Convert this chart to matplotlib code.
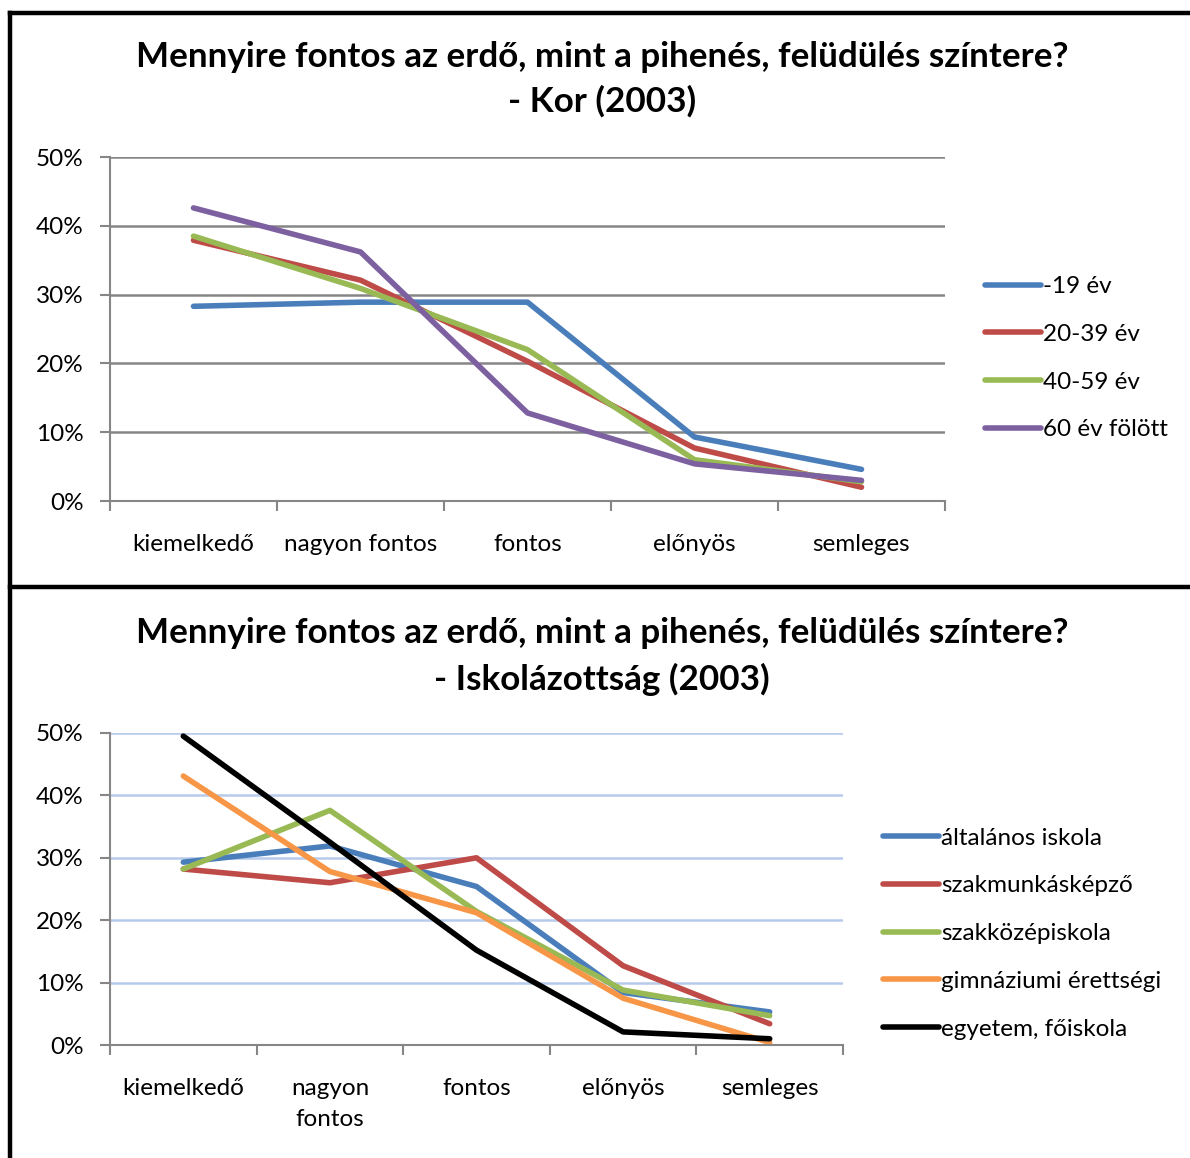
import matplotlib.pyplot as plt
from matplotlib.lines import Line2D

plt.rcParams['font.family'] = ['Lato', 'DejaVu Sans']

categories = ['kiemelkedő', 'nagyon fontos', 'fontos', 'előnyös', 'semleges']
categories2 = ['kiemelkedő', 'nagyon\nfontos', 'fontos', 'előnyös', 'semleges']

# top chart: age groups (%)
age_labels = ['-19 év', '20-39 év', '40-59 év', '60 év fölött']
age_19 = [28.3, 28.9, 28.9, 9.3, 4.6]
age_20_39 = [37.9, 32.1, 20.3, 7.7, 2.0]
age_40_59 = [38.5, 30.9, 22.0, 6.0, 2.8]
age_60 = [42.6, 36.2, 12.8, 5.4, 3.0]
age_colors = ['#4a7ebb', '#be4b48', '#98b954', '#7d60a0']

# bottom chart: education (%)
edu_labels = ['általános iskola', 'szakmunkásképző', 'szakközépiskola',
              'gimnáziumi érettségi', 'egyetem, főiskola']
edu_alt = [29.3, 31.9, 25.4, 8.4, 5.3]
edu_szakm = [28.2, 26.0, 30.0, 12.7, 3.4]
edu_szakk = [28.2, 37.6, 21.4, 8.8, 4.7]
edu_gimn = [43.1, 27.8, 21.2, 7.5, 0.4]
edu_egy = [49.5, 32.5, 15.2, 2.1, 1.0]
edu_colors = ['#4a7ebb', '#be4b48', '#98b954', '#f79646', '#000000']

FS = 17.5
TITLE_FS = 25.2

fig = plt.figure(figsize=(11.9, 11.58), dpi=100)

# frame lines (pixel coords -> figure fraction)
W, H = 1190, 1158
def fx(x): return x / W
def fy(y): return 1 - y / H
for xs, ys in [([10, 10], [13, H]), ([10, W], [13, 13]), ([10, W], [587, 587])]:
    fig.add_artist(Line2D([fx(v) for v in xs], [fy(v) for v in ys],
                          color='black', lw=3.2, solid_capstyle='projecting'))


def style_axes(ax, grid_color, labels):
    ax.set_xlim(-0.5, 4.5)
    ax.set_ylim(0, 50)
    ax.set_yticks(range(0, 51, 10))
    ax.set_yticklabels([f'{v}%' for v in range(0, 51, 10)], fontsize=FS)
    ax.set_xticks(range(5))
    ax.set_xticklabels(labels, fontsize=FS, linespacing=1.55)
    ax.set_xticks([i - 0.5 for i in range(6)], minor=True)
    ax.tick_params(axis='x', which='major', length=0, pad=24)
    ax.tick_params(axis='x', which='minor', length=7, color='#868686', width=1.5)
    ax.tick_params(axis='y', length=7, color='#868686', width=1.5, pad=12)
    for s in ['top', 'right']:
        ax.spines[s].set_visible(False)
    for s in ['left', 'bottom']:
        ax.spines[s].set_color('#868686')
        ax.spines[s].set_linewidth(1.5)
    ax.grid(axis='y', color=grid_color, lw=1.8)
    ax.set_axisbelow(True)


# top chart
ax1 = fig.add_axes([fx(110), fy(501), fx(945) - fx(110), fy(157) - fy(501)])
for vals, lab, col in zip([age_19, age_20_39, age_40_59, age_60], age_labels, age_colors):
    ax1.plot(range(5), vals, color=col, lw=4.0, label=lab, solid_capstyle='round')
style_axes(ax1, '#868686', categories)
ax1.legend(loc='center left', bbox_to_anchor=(1.048, 0.415), frameon=False, fontsize=FS,
           handlelength=2.3, handletextpad=0.1, labelspacing=1.1, borderpad=0, borderaxespad=0)
fig.text(fx(602), fy(57), 'Mennyire fontos az erdő, mint a pihenés, felüdülés színtere?',
         ha='center', va='center', fontsize=TITLE_FS, fontweight='bold')
fig.text(fx(602), fy(101), '- Kor (2003)', ha='center', va='center', fontsize=TITLE_FS, fontweight='bold')

# bottom chart
ax2 = fig.add_axes([fx(110), fy(1045), fx(843) - fx(110), fy(733) - fy(1045)])
for vals, lab, col in zip([edu_alt, edu_szakm, edu_szakk, edu_gimn, edu_egy], edu_labels, edu_colors):
    ax2.plot(range(5), vals, color=col, lw=4.0, label=lab, solid_capstyle='round')
style_axes(ax2, '#b7cbea', categories2)
ax2.legend(loc='center left', bbox_to_anchor=(1.0546, 0.357), frameon=False, fontsize=FS,
           handlelength=2.3, handletextpad=0.1, labelspacing=1.1, borderpad=0, borderaxespad=0)
fig.text(fx(602), fy(633), 'Mennyire fontos az erdő, mint a pihenés, felüdülés színtere?',
         ha='center', va='center', fontsize=TITLE_FS, fontweight='bold')
fig.text(fx(602), fy(679), '- Iskolázottság (2003)', ha='center', va='center', fontsize=TITLE_FS, fontweight='bold')

fig.savefig('out.png', dpi=100)
